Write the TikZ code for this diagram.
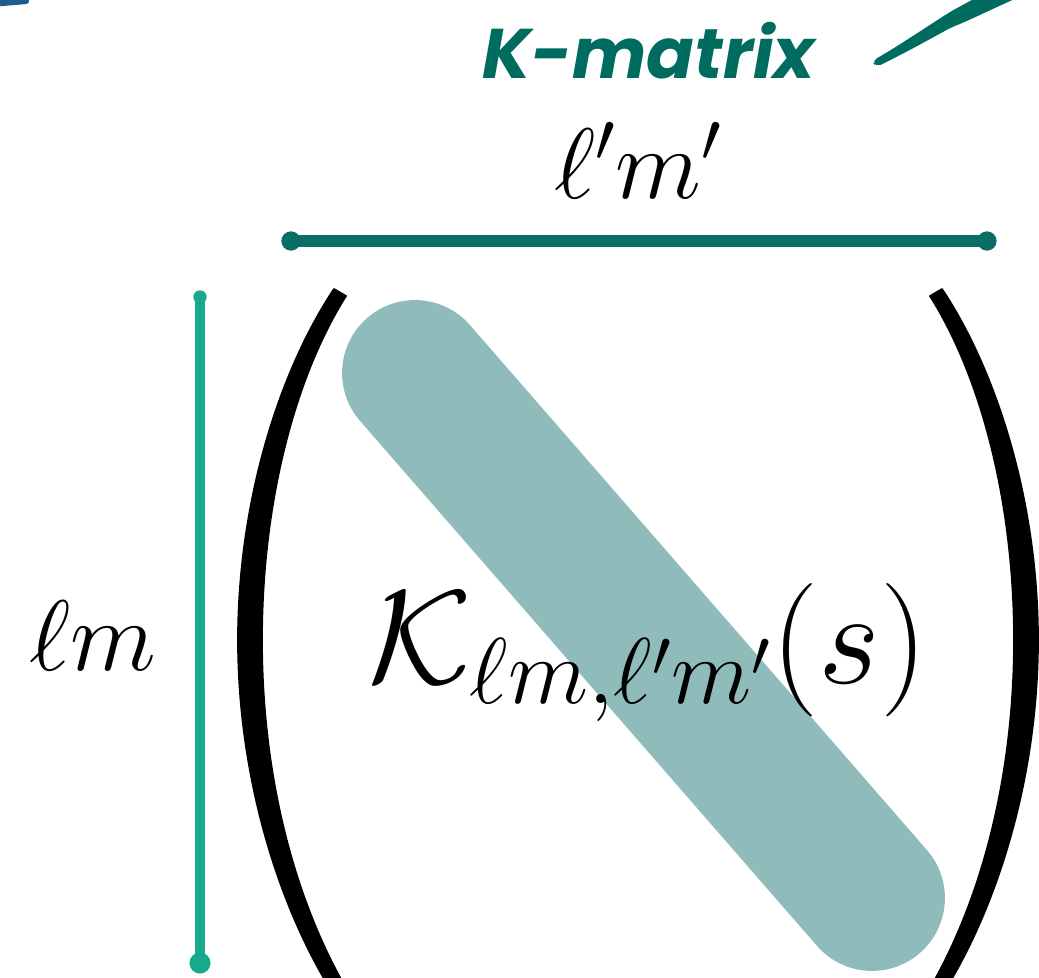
\RequirePackage{fix-cm}
\documentclass[tikz,border=0pt]{standalone}
\usepackage{fontspec}
\newfontfamily\titlefont{Poppins}
\usepackage{tikz}
\usetikzlibrary{positioning,calc}
\usepackage{xcolor}
\definecolor{kteal}{HTML}{006B5F}
\definecolor{lineteal}{HTML}{0A6E66}
\definecolor{rowgreen}{HTML}{19A98C}
\definecolor{bandteal}{HTML}{8FBCBA}
\definecolor{inkblue}{HTML}{1D5C8C}
\tikzset{
  mathlabel/.style={font=\fontsize{57}{62}\selectfont, inner sep=0pt, anchor=base},
  titlelabel/.style={font=\titlefont\bfseries\itshape\fontsize{40}{46}\selectfont, text=kteal, inner sep=0pt, anchor=base},
  indexbar/.style={line width=6.5pt, line cap=round},
  enddot/.style={radius=5.5pt},
  paren/.style={fill=black, draw=black, line width=1pt, line join=round},
  band/.style={draw=bandteal, line width=83pt, line cap=round},
  brush/.style={line width=9pt, line cap=round}
}
\begin{document}
\begin{tikzpicture}[x=0.02cm, y=-0.02cm]
  \useasboundingbox (0,0) rectangle (1039,978);
  \clip (0,0) rectangle (1039,978);
  % stray strokes at the top corners
  \draw[brush, inkblue, line width=3.5pt] (-10,4) -- (26,1);
  \fill[kteal, rounded corners=3pt] (872,61) .. controls (895,48) and (925,28) .. (950,12)
    .. controls (975,-2) and (1010,-20) .. (1050,-40)
    -- (1050,-16) .. controls (1010,0) and (975,18) .. (950,28)
    .. controls (925,42) and (895,58) .. (876,67) -- cycle;
  % title and column index
  \node[titlelabel] (title) at (649,78) {K-matrix};
  \node[mathlabel] (colidx) at (638,198) {$\ell' m'$};
  \coordinate (colL) at (291,241);
  \coordinate (colR) at (987,241);
  \draw[indexbar, lineteal] (colL) -- (colR);
  \fill[lineteal] (colL) circle[enddot] (colR) circle[enddot];
  % row index
  \node[mathlabel] (rowidx) at (93,670) {$\ell m$};
  \coordinate (rowT) at (200,297);
  \coordinate (rowB) at (200,963);
  \draw[indexbar, rowgreen, line width=6pt] (rowT) -- (rowB);
  \fill[rowgreen] (rowT) circle[radius=3.8pt] (rowB) circle[radius=6pt];
  % diagonal band
  \draw[band] (415,373) -- (872,898);
  % big parentheses
  \filldraw[paren] (334,289) .. controls (280,370) and (238,500) .. (238,640)
    .. controls (238,780) and (280,910) .. (334,995) -- (350,995)
    .. controls (296,905) and (262,780) .. (262,640)
    .. controls (262,500) and (296,375) .. (346,296) -- cycle;
  \filldraw[paren] (942,289) .. controls (996,370) and (1038,500) .. (1038,640)
    .. controls (1038,780) and (996,910) .. (942,995) -- (926,995)
    .. controls (980,905) and (1014,780) .. (1014,640)
    .. controls (1014,500) and (980,375) .. (930,296) -- cycle;
  % matrix entry
  \node[mathlabel, font=\fontsize{76}{80}\selectfont] (entry) at (648,683) {$\mathcal{K}_{\ell m,\ell' m'}(s)$};
\end{tikzpicture}
\end{document}
